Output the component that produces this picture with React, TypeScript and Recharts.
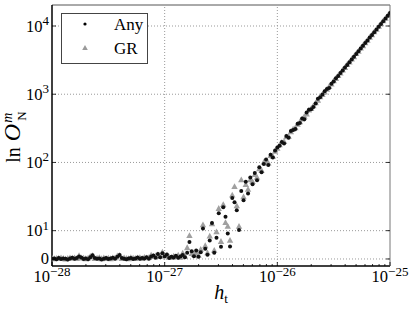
import { ScatterChart, Scatter, XAxis, YAxis, ReferenceLine } from "recharts";

// log10(h_t) sample grid
const logH = [
  -28, -27.98, -27.96, -27.94, -27.92, -27.9, -27.88, -27.86, -27.84, -27.82,
  -27.8, -27.78, -27.76, -27.74, -27.72, -27.7, -27.68, -27.66, -27.64, -27.62,
  -27.6, -27.58, -27.56, -27.54, -27.52, -27.5, -27.48, -27.46, -27.44, -27.42,
  -27.4, -27.38, -27.36, -27.34, -27.32, -27.3, -27.28, -27.26, -27.24, -27.22,
  -27.2, -27.18, -27.16, -27.14, -27.12, -27.1, -27.08, -27.06, -27.04, -27.02,
  -27, -26.98, -26.96, -26.94, -26.92, -26.9, -26.88, -26.86, -26.84, -26.82,
  -26.8, -26.78, -26.76, -26.74, -26.72, -26.7, -26.68, -26.66, -26.64, -26.62,
  -26.6, -26.58, -26.56, -26.54, -26.52, -26.5, -26.48, -26.46, -26.44, -26.42,
  -26.4, -26.38, -26.36, -26.34, -26.32, -26.3, -26.28, -26.26, -26.24, -26.22,
  -26.2, -26.18, -26.16, -26.14, -26.12, -26.1, -26.08, -26.06, -26.04, -26.02,
  -26, -25.98, -25.96, -25.94, -25.92, -25.9, -25.88, -25.86, -25.84, -25.82,
  -25.8, -25.78, -25.76, -25.74, -25.72, -25.7, -25.68, -25.66, -25.64, -25.62,
  -25.6, -25.58, -25.56, -25.54, -25.52, -25.5, -25.48, -25.46, -25.44, -25.42,
  -25.4, -25.38, -25.36, -25.34, -25.32, -25.3, -25.28, -25.26, -25.24, -25.22,
  -25.2, -25.18, -25.16, -25.14, -25.12, -25.1, -25.08, -25.06, -25.04, -25.02,
  -25,
];

const anyVals = [
  0.1, 0.2, -0.1, 0.3, 0.0, 0.2, 0.1, -0.2, 0.2, 0.4,
  0.1, 0.3, 0.9, 0.5, 0.0, 0.2, -0.1, 0.6, 1.3, 0.3,
  0.1, 0.2, -0.2, 0.1, 0.3, 0.0, 0.2, 0.4, 0.1, 0.8,
  1.4, 0.3, 0.1, -0.1, 0.2, 0.3, 0.0, 0.2, 0.5, 0.1,
  0.3, 0.2, 0.6, 0.1, 0.9, 1.2, 0.4, 1.8, 0.6, 2.0,
  0.9, 1.6, 0.3, 0.8, 0.5, 1.1, 0.4, 0.9, 1.4, 0.6,
  2.2, 6.0, 2.7, 1.0, 3.0, 0.8, 2.4, 10.8, 3.6, 1.5,
  6.5, 13.0, 2.2, 7.5, 18.0, 4.3, 22.0, 16.0, 9.0, 4.4,
  30, 26, 20, 10.2, 38, 28, 52, 35, 60, 48,
  70, 55, 85, 72, 95, 110, 92, 130, 118, 150,
  165, 175, 200, 190, 245, 230, 290, 300, 310, 370,
  380, 440, 430, 540, 590, 600, 650, 730, 860, 900,
  990, 1110, 1190, 1230, 1420, 1540, 1710, 1850, 2050, 2230,
  2460, 2690, 2950, 3240, 3540, 3900, 4250, 4690, 5120, 5630,
  6150, 6780, 7400, 8130, 8900, 9790, 10700, 11750, 12880, 14120,
  15500,
];

const grVals = [
  0.2, 0.0, 0.1, 0.2, 0.3, 0.1, -0.1, 0.1, 0.3, 0.2,
  0.3, 0.1, 1.1, 0.3, 0.2, 0.0, 0.2, 0.8, 1.1, 0.1,
  0.2, 0.4, 0.0, 0.3, 0.1, 0.2, 0.0, 0.3, 0.3, 1.0,
  1.2, 0.1, 0.3, 0.1, 0.0, 0.4, 0.2, 0.1, 0.3, 0.4,
  0.1, 0.5, 0.3, 0.4, 1.3, 0.8, 1.0, 1.5, 0.9, 2.3,
  1.3, 1.2, 0.6, 0.4, 0.9, 0.7, 1.3, 0.5, 2.0, 0.9,
  3.9, 8.2, 1.8, 1.6, 2.2, 1.2, 3.3, 12.1, 4.6, 2.1,
  8.0, 12.5, 3.0, 9.5, 21, 6.1, 24, 13, 11.5, 6.5,
  33, 44, 23, 11.5, 55, 31, 47, 40, 55, 52,
  66, 60, 80, 76, 100, 104, 97, 125, 122, 145,
  160, 180, 195, 200, 235, 240, 280, 305, 320, 360,
  390, 430, 470, 510, 580, 610, 670, 740, 810, 910,
  980, 1070, 1170, 1290, 1400, 1560, 1690, 1860, 2030, 2250,
  2440, 2710, 2930, 3260, 3520, 3920, 4230, 4710, 5100, 5650,
  6130, 6800, 7380, 8150, 8880, 9810, 10680, 11780, 12850, 14150,
  15450,
];

const xMajor = [-28, -27, -26, -25];
const yLabels = ["0", "1", "2", "3", "4"]; // 0, 10^1 ... 10^4
const yTickVals = [0, 10, 100, 1000, 10000];

// symlog: linear below 10, log above
const LIN = 0.415;
const sym = (v: number) => (Math.abs(v) <= 10 ? (v / 10) * LIN : Math.sign(v) * (LIN + Math.log10(Math.abs(v) / 10)));

const yTicks = yTickVals.map(sym);
const xTicks: number[] = [];
for (let n = -28; n <= -25; n++) {
  xTicks.push(n);
  if (n < -25) for (let k = 2; k <= 9; k++) xTicks.push(n + Math.log10(k));
}

const anyData = logH.map((x, i) => ({ x, y: sym(anyVals[i]) }));
const grData = logH.map((x, i) => ({ x, y: sym(grVals[i]) }));

const FONT = "Liberation Serif, DejaVu Serif, serif";
const fontStyle = { fontFamily: FONT };

const isMajor = (v: number) => Math.abs(v - Math.round(v)) < 1e-6;

const XTick = (props: any) => {
  const { x, y, payload, top } = props;
  const major = isMajor(payload.value);
  const len = major ? 4 : 2;
  const d = top ? 1 : -1;
  return (
    <g>
      <line x1={x} x2={x} y1={y} y2={y + d * len} stroke="#000" strokeWidth={0.8} />
      {major && !top && (
        <text x={x} y={y + 16} textAnchor="middle" style={fontStyle} fontSize={16.5} fill="#000">
          10<tspan dy={-6.5} fontSize={13}>{"\u2212" + -Math.round(payload.value)}</tspan>
        </text>
      )}
    </g>
  );
};

const YTick = (props: any) => {
  const { x, y, index, right } = props;
  const d = right ? -1 : 1;
  return (
    <g>
      <line x1={x} x2={x + d * 4} y1={y} y2={y} stroke="#000" strokeWidth={0.8} />
      {!right && (
        <text x={x - 3} y={y + 5.5} textAnchor="end" style={fontStyle} fontSize={16.5} fill="#000">
          {index === 0 ? "0" : "10"}
          {index > 0 && <tspan dy={-6.5} fontSize={13}>{yLabels[index]}</tspan>}
        </text>
      )}
    </g>
  );
};

const Dot = (props: any) => <circle cx={props.cx} cy={props.cy} r={2} fill="#111" />;
const Tri = (props: any) => {
  const { cx, cy } = props;
  return <polygon points={`${cx},${cy - 3.6} ${cx - 3.2},${cy + 2.2} ${cx + 3.2},${cy + 2.2}`} fill="#a0a0a0" />;
};

export default function App() {
  return (
    <div style={{ position: "absolute", left: 0, top: 0, width: 415, height: 311, background: "#fff" }}>
      <ScatterChart width={415} height={311} margin={{ top: 0, right: 0, bottom: 0, left: 0 }}>
        <XAxis
          dataKey="x"
          type="number"
          domain={[-28, -25]}
          ticks={xTicks}
          interval={0}
          height={45}
          tickSize={0}
          tickMargin={0}
          tickLine={false}
          axisLine={{ stroke: "#000", strokeWidth: 1.5 }}
          tick={<XTick />}
          allowDataOverflow
        />
        <XAxis
          xAxisId="top"
          orientation="top"
          type="number"
          domain={[-28, -25]}
          ticks={xTicks}
          interval={0}
          height={5}
          tickSize={0}
          tickMargin={0}
          tickLine={false}
          axisLine={{ stroke: "#555", strokeWidth: 1 }}
          tick={<XTick top />}
          allowDataOverflow
        />
        <YAxis
          dataKey="y"
          type="number"
          domain={[-0.103, 3.723]}
          ticks={yTicks}
          interval={0}
          width={52}
          tickSize={0}
          tickMargin={0}
          tickLine={false}
          axisLine={{ stroke: "#000", strokeWidth: 1.5 }}
          tick={<YTick />}
          allowDataOverflow
        />
        <YAxis
          yAxisId="right"
          orientation="right"
          type="number"
          domain={[-0.103, 3.723]}
          ticks={yTicks}
          interval={0}
          width={25}
          tickSize={0}
          tickMargin={0}
          tickLine={false}
          axisLine={{ stroke: "#777", strokeWidth: 1 }}
          tick={<YTick right />}
          allowDataOverflow
        />
        {xMajor.slice(1, 3).map((v) => (
          <ReferenceLine key={"gx" + v} x={v} stroke="#999" strokeDasharray="1 2" />
        ))}
        {yTicks.map((v, i) => (
          <ReferenceLine key={"gy" + i} y={v} stroke="#999" strokeDasharray="1 2" />
        ))}
        <Scatter name="GR" data={grData} shape={<Tri />} isAnimationActive={false} />
        <Scatter name="Any" data={anyData} shape={<Dot />} isAnimationActive={false} />
      </ScatterChart>
      <svg width={415} height={311} style={{ position: "absolute", left: 0, top: 0, pointerEvents: "none" }}>
        <rect x={61.5} y={13.5} width={86} height={50} fill="#fff" stroke="#444" strokeWidth={1} />
        <circle cx={85} cy={24} r={1.6} fill="#000" />
        <text x={114} y={30} style={fontStyle} fontSize={17} fill="#000">Any</text>
        <polygon points="85,45 82.2,50 87.8,50" fill="#9a9a9a" />
        <text x={114} y={54} style={fontStyle} fontSize={17} fill="#000">GR</text>
        <text x={221} y={299} textAnchor="middle" style={fontStyle} fontSize={20} fill="#000">
          <tspan fontStyle="italic">h</tspan>
          <tspan dy={4} fontSize={13}>t</tspan>
        </text>
        <text transform="translate(20,137) rotate(-90)" textAnchor="middle" style={fontStyle} fontSize={20} fill="#000">
          ln
          <tspan dx={6} fontStyle="italic" fontSize={24}>O</tspan>
          <tspan dx={1} dy={-8} fontSize={14} fontStyle="italic">m</tspan>
          <tspan dx={-8} dy={14} fontSize={13}>N</tspan>
        </text>
      </svg>
    </div>
  );
}
